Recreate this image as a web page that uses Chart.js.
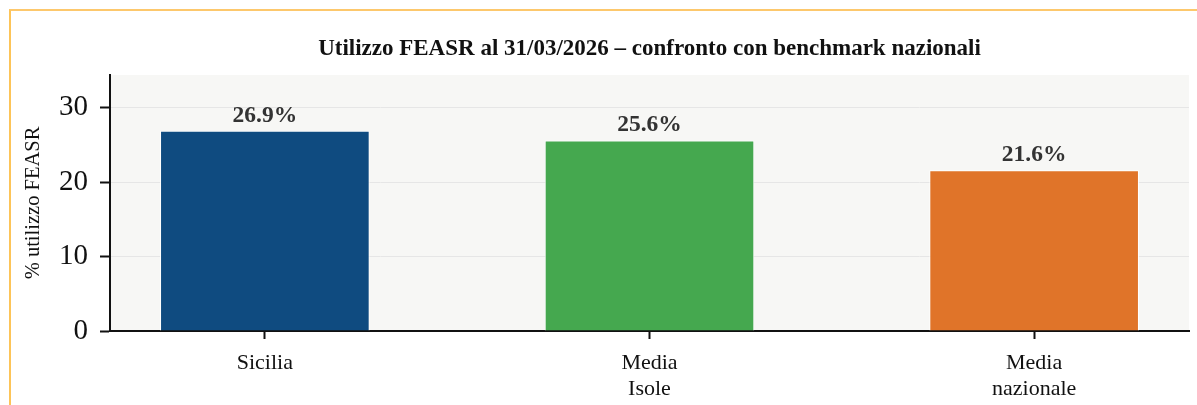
<!DOCTYPE html>
<html>
<head>
<meta charset="utf-8">
<script src="https://cdn.jsdelivr.net/npm/chart.js@4"></script>
<style>
  html, body { margin: 0; padding: 0; background: #fff; }
  #wrap { position: relative; width: 1197px; height: 405px; overflow: hidden; }
  #frame { position: absolute; left: 9px; top: 9px; width: 1400px; height: 600px;
           border-top: 2px solid #fdc86c; border-left: 2px solid #fdc458; }
  #chart { position: absolute; left: 0; top: 0; }
</style>
</head>
<body>
<div id="wrap">
  <div id="frame"></div>
  <canvas id="chart" width="1197" height="405"></canvas>
</div>
<script>
const categories = [['Sicilia'], ['Media', 'Isole'], ['Media', 'nazionale']];
const utilizzo = [26.9, 25.6, 21.6];
const barColors = ['#0f4b80', '#45a84f', '#e07429'];
const yTicks = [0, 10, 20, 30];

const serif = '"Liberation Serif", "Times New Roman", serif';

// grey background behind the plot
const plotBackground = {
    id: 'plotBackground',
    beforeDraw(chart) {
        const { ctx, chartArea } = chart;
        ctx.save();
        ctx.fillStyle = '#f7f7f5';
        ctx.fillRect(chartArea.left, chartArea.top, chartArea.right - chartArea.left, chartArea.bottom - chartArea.top);
        ctx.restore();
    }
};

// percentage labels over the bars
const valueLabels = {
    id: 'valueLabels',
    afterDatasetsDraw(chart) {
        const { ctx } = chart;
        const meta = chart.getDatasetMeta(0);
        ctx.save();
        ctx.font = 'bold 23.5px ' + serif;
        ctx.fillStyle = '#333333';
        ctx.textAlign = 'center';
        ctx.textBaseline = 'alphabetic';
        meta.data.forEach((bar, i) => {
            ctx.fillText(utilizzo[i].toFixed(1) + '%', bar.x, bar.y - 9);
        });
        ctx.restore();
    }
};

new Chart(document.getElementById('chart'), {
    type: 'bar',
    data: {
        datasets: [{
            data: utilizzo.map((v, i) => ({ x: i, y: v })),
            backgroundColor: barColors,
            borderColor: '#ffffff',
            borderWidth: 1,
            categoryPercentage: 1,
            barPercentage: 0.545
        }]
    },
    options: {
        responsive: false,
        animation: false,
        layout: { padding: { left: 0, right: 8, top: 0, bottom: 0 } },
        plugins: {
            legend: { display: false },
            tooltip: { enabled: false },
            title: {
                display: true,
                fullSize: false,
                text: 'Utilizzo FEASR al 31/03/2026 \u2013 confronto con benchmark nazionali',
                color: '#111111',
                font: { family: serif, size: 23, weight: 'bold', lineHeight: 1.2 },
                padding: { top: 35.4, bottom: 12 }
            }
        },
        scales: {
            x: {
                type: 'linear',
                min: -0.4026,
                max: 2.4026,
                offset: false,
                afterBuildTicks(scale) {
                    scale.ticks = categories.map((_, i) => ({ value: i }));
                },
                afterFit(scale) { scale.height = 74; },
                ticks: {
                    callback: (value) => categories[value],
                    color: '#111111',
                    font: { family: serif, size: 22, lineHeight: 1.15 },
                    padding: 12,
                    maxRotation: 0
                },
                grid: {
                    offset: false,
                    drawOnChartArea: false,
                    tickLength: 8,
                    tickWidth: 2,
                    tickColor: '#111111'
                },
                border: { display: true, color: '#111111', width: 2 }
            },
            y: {
                min: 0,
                max: 34.4,
                afterBuildTicks(scale) {
                    scale.ticks = yTicks.map(v => ({ value: v }));
                },
                afterFit(scale) { scale.width = 110; },
                ticks: {
                    color: '#111111',
                    font: { family: serif, size: 29 },
                    padding: 12
                },
                grid: {
                    color: '#e6e6e6',
                    lineWidth: 1,
                    tickLength: 10,
                    tickWidth: 2,
                    tickColor: '#111111'
                },
                border: { display: true, color: '#111111', width: 2 },
                title: {
                    display: true,
                    text: '% utilizzo FEASR',
                    color: '#111111',
                    font: { family: serif, size: 20.5, lineHeight: 1.2 },
                    padding: { top: 21 }
                }
            }
        }
    },
    plugins: [plotBackground, valueLabels]
});
</script>
</body>
</html>
